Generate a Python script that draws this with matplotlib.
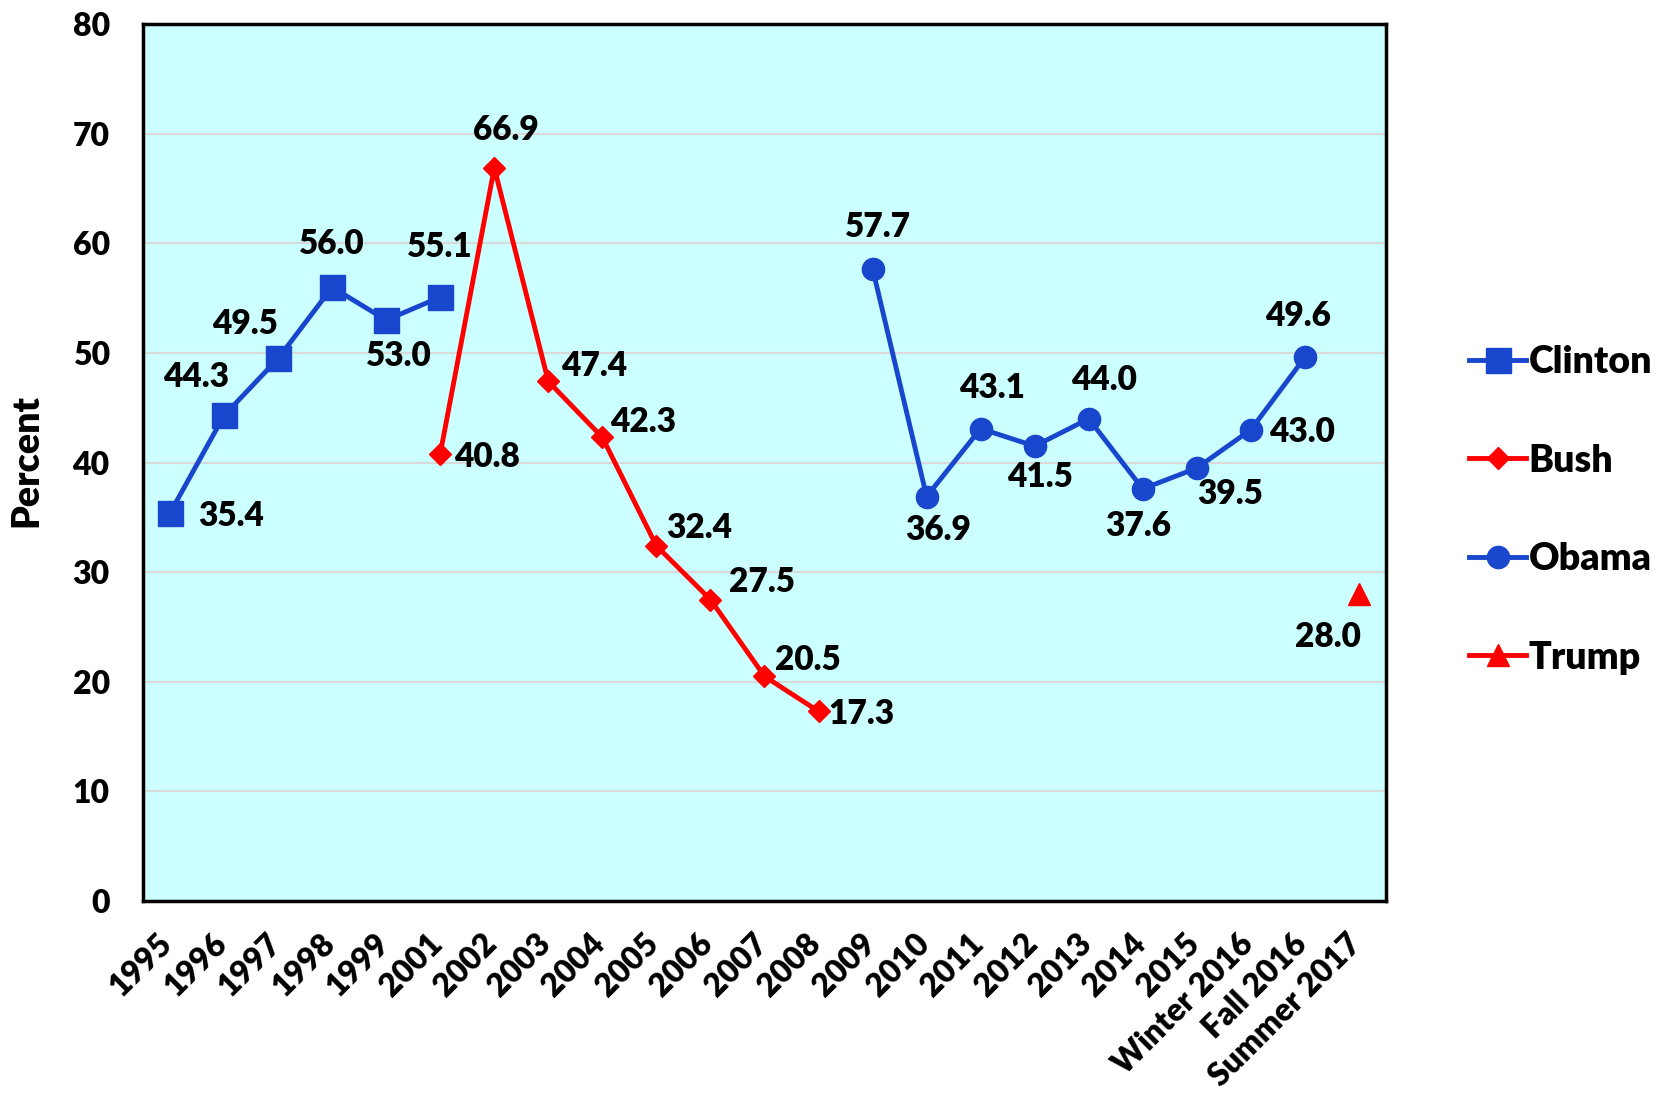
import matplotlib
matplotlib.use("Agg")
import matplotlib.pyplot as plt
import matplotlib.transforms as mtrans
from matplotlib.lines import Line2D

plt.rcParams['font.family'] = ['Lato', 'DejaVu Sans']
plt.rcParams['font.weight'] = 'heavy'

# -------------------------------------------------------------
# Data
# -------------------------------------------------------------
categories = ["1995", "1996", "1997", "1998", "1999", "2001", "2002", "2003",
              "2004", "2005", "2006", "2007", "2008", "2009", "2010", "2011",
              "2012", "2013", "2014", "2015", "Winter 2016", "Fall 2016",
              "Summer 2017"]

clinton_cats = ["1995", "1996", "1997", "1998", "1999", "2001"]
clinton_vals = [35.4, 44.3, 49.5, 56.0, 53.0, 55.1]

bush_cats = ["2001", "2002", "2003", "2004", "2005", "2006", "2007", "2008"]
bush_vals = [40.8, 66.9, 47.4, 42.3, 32.4, 27.5, 20.5, 17.3]

obama_cats = ["2009", "2010", "2011", "2012", "2013", "2014", "2015",
              "Winter 2016", "Fall 2016"]
obama_vals = [57.7, 36.9, 43.1, 41.5, 44.0, 37.6, 39.5, 43.0, 49.6]

trump_cats = ["Summer 2017"]
trump_vals = [28.0]

# label offsets (points) for each value label
clinton_off = [(44, -2), (-20, 28), (-24, 25), (0, 31), (9, -26), (0, 36)]
bush_off = [(34, -2), (8, 27), (33, 11), (29, 11), (31, 13), (37, 13), (31, 12), (31, -2)]
obama_off = [(4, 30), (8, -24), (8, 29), (4, -22), (11, 28), (-3, -27), (24, -19), (37, -2), (-5, 30)]
trump_off = [(-22, -31)]

BLUE = "#1846cc"
RED = "#ff0000"

idx = {c: i for i, c in enumerate(categories)}

fig = plt.figure(figsize=(16.65, 11.01), dpi=100)
ax = fig.add_axes([0.0859, 0.1817, 0.8324 - 0.0859, 0.978 - 0.1817])
ax.set_facecolor("#ccffff")

series = [
    (clinton_cats, clinton_vals, clinton_off, BLUE, 's', 18, "Clinton"),
    (bush_cats, bush_vals, bush_off, RED, 'D', 11, "Bush"),
    (obama_cats, obama_vals, obama_off, BLUE, 'o', 16, "Obama"),
    (trump_cats, trump_vals, trump_off, RED, '^', 16, "Trump"),
]

handles = []
for cats, vals, offs, col, mk, ms, name in series:
    xs = [idx[c] for c in cats]
    ax.plot(xs, vals, color=col, lw=3.5, marker=mk, markersize=ms,
            markerfacecolor=col, markeredgecolor=col, zorder=3)
    for x, v, (dx, dy) in zip(xs, vals, offs):
        ax.annotate(f"{v:.1f}", (x, v), xytext=(dx, dy), textcoords="offset points",
                    ha="center", va="center", fontsize=24, zorder=4)
    handles.append(Line2D([0], [0], color=col, lw=3.5, marker=mk,
                          markersize=ms, label=name))

ax.set_xlim(-0.5, len(categories) - 0.5)
ax.set_ylim(0, 80)
ax.set_yticks(range(0, 81, 10))
ax.yaxis.grid(True, color="#d9d9d9", lw=1.5)
ax.set_axisbelow(True)
ax.tick_params(axis='y', length=0, pad=24, labelsize=23)
ax.tick_params(axis='x', length=0, pad=20, labelsize=23)

ax.set_xticks(range(len(categories)))
ax.set_xticklabels(categories, rotation=45, ha="right")
shift = mtrans.ScaledTranslation(0.08, 0, fig.dpi_scale_trans)
for lab in ax.get_xticklabels():
    lab.set_transform(lab.get_transform() + shift)

for sp in ax.spines.values():
    sp.set_linewidth(2.5)
    sp.set_color("black")

fig.text(0.016, 0.582, "Percent", rotation=90, ha="center", va="center",
         fontsize=27)

fig.legend(handles=handles, loc="center left", bbox_to_anchor=(0.8735, 0.537),
           frameon=False, fontsize=27, labelspacing=1.72, handlelength=1.5,
           handletextpad=0.08, borderaxespad=0)

fig.savefig("out.png", dpi=100)
